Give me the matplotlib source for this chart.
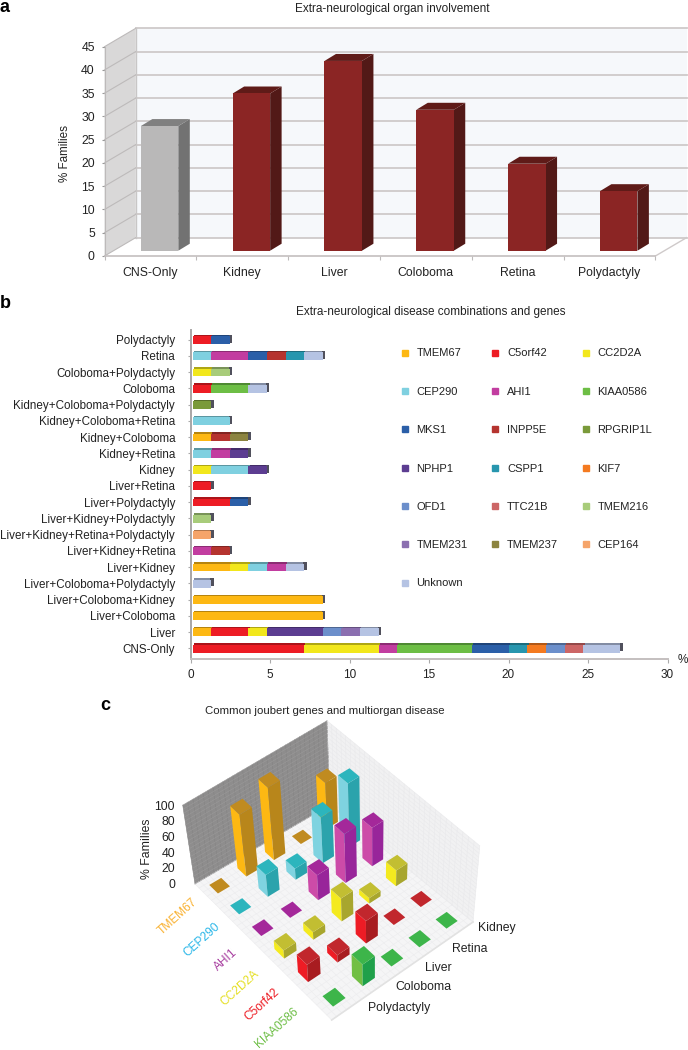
import numpy as np
import matplotlib
matplotlib.use("Agg")
import matplotlib.pyplot as plt
from matplotlib.lines import Line2D
from matplotlib.colors import to_rgb

plt.rcParams['font.family'] = ['Liberation Sans', 'DejaVu Sans']

W, H = 688, 1050

# panel a
organs = ["CNS-Only", "Kidney", "Liver", "Coloboma", "Retina", "Polydactyly"]
organ_pct = [26.8, 33.8, 40.8, 30.3, 18.7, 12.8]

# panel b
combos = ["CNS-Only", "Liver", "Liver+Coloboma", "Liver+Coloboma+Kidney",
          "Liver+Coloboma+Polydactyly", "Liver+Kidney", "Liver+Kidney+Retina",
          "Liver+Kidney+Retina+Polydactyly", "Liver+Kidney+Polydactyly",
          "Liver+Polydactyly", "Liver+Retina", "Kidney", "Kidney+Retina",
          "Kidney+Coloboma", "Kidney+Coloboma+Retina", "Kidney+Coloboma+Polydactyly",
          "Coloboma", "Coloboma+Polydactyly", "Retina", "Polydactyly"]
TMEM67 =   [0, 1.17, 8.19, 8.19, 0, 2.34, 0, 0, 0, 0, 0, 0, 0, 1.17, 0, 0, 0, 0, 0, 0]
C5orf42 =  [7.02, 2.34, 0, 0, 0, 0, 0, 0, 0, 2.34, 1.17, 0, 0, 0, 0, 0, 1.17, 0, 0, 1.17]
CC2D2A =   [4.68, 1.17, 0, 0, 0, 1.17, 0, 0, 0, 0, 0, 1.17, 0, 0, 0, 0, 0, 1.17, 0, 0]
CEP290 =   [0, 0, 0, 0, 0, 1.17, 0, 0, 0, 0, 0, 2.34, 1.17, 0, 2.34, 0, 0, 0, 1.17, 0]
AHI1 =     [1.17, 0, 0, 0, 0, 1.17, 1.17, 0, 0, 0, 0, 0, 1.17, 0, 0, 0, 0, 0, 2.34, 0]
KIAA0586 = [4.68, 0, 0, 0, 0, 0, 0, 0, 0, 0, 0, 0, 0, 0, 0, 0, 2.34, 0, 0, 0]
MKS1 =     [2.34, 0, 0, 0, 0, 0, 0, 0, 0, 1.17, 0, 0, 0, 0, 0, 0, 0, 0, 1.17, 1.17]
INPP5E =   [0, 0, 0, 0, 0, 0, 1.17, 0, 0, 0, 0, 0, 0, 1.17, 0, 0, 0, 0, 1.17, 0]
RPGRIP1L = [0, 0, 0, 0, 0, 0, 0, 0, 0, 0, 0, 0, 0, 0, 0, 1.17, 0, 0, 0, 0]
NPHP1 =    [0, 3.51, 0, 0, 0, 0, 0, 0, 0, 0, 0, 1.17, 1.17, 0, 0, 0, 0, 0, 0, 0]
CSPP1 =    [1.17, 0, 0, 0, 0, 0, 0, 0, 0, 0, 0, 0, 0, 0, 0, 0, 0, 0, 1.17, 0]
KIF7 =     [1.17, 0, 0, 0, 0, 0, 0, 0, 0, 0, 0, 0, 0, 0, 0, 0, 0, 0, 0, 0]
OFD1 =     [1.17, 1.17, 0, 0, 0, 0, 0, 0, 0, 0, 0, 0, 0, 0, 0, 0, 0, 0, 0, 0]
TTC21B =   [1.17, 0, 0, 0, 0, 0, 0, 0, 0, 0, 0, 0, 0, 0, 0, 0, 0, 0, 0, 0]
TMEM216 =  [0, 0, 0, 0, 0, 0, 0, 0, 1.17, 0, 0, 0, 0, 0, 0, 0, 0, 1.17, 0, 0]
TMEM231 =  [0, 1.17, 0, 0, 0, 0, 0, 0, 0, 0, 0, 0, 0, 0, 0, 0, 0, 0, 0, 0]
TMEM237 =  [0, 0, 0, 0, 0, 0, 0, 0, 0, 0, 0, 0, 0, 1.17, 0, 0, 0, 0, 0, 0]
CEP164 =   [0, 0, 0, 0, 0, 0, 0, 1.17, 0, 0, 0, 0, 0, 0, 0, 0, 0, 0, 0, 0]
Unknown =  [2.34, 1.17, 0, 0, 1.17, 1.17, 0, 0, 0, 0, 0, 0, 0, 0, 0, 0, 1.17, 0, 1.17, 0]

genes = ["TMEM67", "C5orf42", "CC2D2A", "CEP290", "AHI1", "KIAA0586", "MKS1", "INPP5E",
         "RPGRIP1L", "NPHP1", "CSPP1", "KIF7", "OFD1", "TTC21B", "TMEM216", "TMEM231",
         "TMEM237", "CEP164", "Unknown"]
gene_values = [TMEM67, C5orf42, CC2D2A, CEP290, AHI1, KIAA0586, MKS1, INPP5E, RPGRIP1L,
               NPHP1, CSPP1, KIF7, OFD1, TTC21B, TMEM216, TMEM231, TMEM237, CEP164, Unknown]
gene_colors = ["#FDB813", "#ED1C24", "#F2E71C", "#7FD0E0", "#C23DA0", "#6DBE45", "#2B5FA8",
               "#B5342F", "#7A9A3A", "#5C3D91", "#2796AE", "#F47A20", "#6C8FCB", "#CC6666",
               "#A8CC7A", "#8B6FB0", "#8C8440", "#F5A46A", "#B5C3E3"]

# panel c, rows are genes, columns are organs
c_genes = ["TMEM67", "CEP290", "AHI1", "CC2D2A", "C5orf42", "KIAA0586"]
c_organs = ["Polydactyly", "Coloboma", "Liver", "Retina", "Kidney"]
c_values = [[0, 78, 90, 0, 55],
            [0, 28, 14, 57, 78],
            [0, 0, 32, 62, 48],
            [11, 10, 30, 7, 20],
            [24, 10, 30, 0, 0],
            [0, 30, 0, 0, 0]]
c_ticks = [0, 20, 40, 60, 80, 100]


def px_axes(left, top, right, bottom):
    return fig.add_axes([left / W, 1 - bottom / H, (right - left) / W, (bottom - top) / H])


def darker(color, k):
    return tuple(c * k for c in to_rgb(color))


fig = plt.figure(figsize=(W / 100, H / 100), dpi=100)

# ---- a ----
ax = px_axes(104.5, 46.7, 655.4, 256)
ax.set_xlim(0, 6)
ax.set_ylim(0, 45)
ax.patch.set_visible(False)
depth_x, depth_y = 0.34, 3.95
n = len(organs)
ax.fill([0, 0, depth_x, depth_x], [0, 45, 45 + depth_y, depth_y], color="#D9D8D8", lw=0, clip_on=False, zorder=1)
ax.fill([depth_x, depth_x, n + depth_x, n + depth_x], [depth_y, 45 + depth_y, 45 + depth_y, depth_y],
        color="#F6F8FB", lw=0, clip_on=False, zorder=1)
for v in range(0, 50, 5):
    ax.plot([depth_x, n + depth_x], [v + depth_y] * 2, color="#CFCACA", lw=1.3, clip_on=False, zorder=2)
    ax.plot([0, depth_x], [v, v + depth_y], color="#BDBABA", lw=0.8, clip_on=False, zorder=2)
ax.plot([depth_x, depth_x], [depth_y, 45 + depth_y], color="#C8C6C6", lw=1, clip_on=False, zorder=2)
ax.plot([n, n + depth_x], [0, depth_y], color="#CFCACA", lw=1, clip_on=False, zorder=2)
bar_w, bar_floor, side_x, side_y = 0.408, 1.14, 0.125, 1.5
centers = np.arange(n) + 0.6
face_cols = ["#B9B8B8"] + ["#8B2524"] * 5
side_cols = ["#727272"] + ["#521917"] * 5
top_cols = ["#808080"] + ["#5F1B18"] * 5
ax.bar(centers, organ_pct, width=bar_w, bottom=bar_floor, color=face_cols, zorder=4)
for cx_, v, sc, tc in zip(centers, organ_pct, side_cols, top_cols):
    x1 = cx_ + bar_w / 2
    x0 = cx_ - bar_w / 2
    top = bar_floor + v
    ax.fill([x1, x1 + side_x, x1 + side_x, x1], [bar_floor, bar_floor + side_y, top + side_y, top],
            color=sc, lw=0, clip_on=False, zorder=3)
    ax.fill([x0, x1, x1 + side_x, x0 + side_x], [top, top, top + side_y, top + side_y],
            color=tc, lw=0, clip_on=False, zorder=3)
ax.set_xticks(np.arange(n + 1))
ax.set_xticklabels([])
ax.set_xticks(np.arange(n) + 0.5, labels=organs, minor=True)
ax.set_yticks(range(0, 50, 5))
ax.tick_params(axis="x", which="major", length=3, color="#BDBABA")
ax.tick_params(axis="x", which="minor", length=0, pad=8, labelsize=8.8, labelcolor="#222222")
ax.tick_params(axis="y", length=2, color="#999999", labelsize=8.8, labelcolor="#222222", pad=5)
for s in ["top", "right"]:
    ax.spines[s].set_visible(False)
ax.spines["left"].set_color("#BDBABA")
ax.spines["bottom"].set_color("#C4BFBF")
ax.spines["bottom"].set_linewidth(1.2)

# ---- b ----
bx = px_axes(190.5, 330, 667.5, 659)
bx.set_xlim(0, 30)
bx.set_ylim(-0.66, 19.6)
bx.patch.set_visible(False)
rows = np.arange(len(combos))
start = 0.13
left = np.full(len(combos), start)
for vals, col in zip(gene_values, gene_colors):
    vals = np.array(vals)
    back_col = darker(col, 0.72)
    bx.barh(rows + 0.06, vals, left=left + 0.08, height=0.5, color=back_col, zorder=2)
    left = left + vals
bx.barh(rows + 0.06, 0.2, left=left - 0.05, height=0.5, color="#50505C", zorder=3)
left = np.full(len(combos), start)
for vals, col in zip(gene_values, gene_colors):
    vals = np.array(vals)
    bx.barh(rows - 0.02, vals, left=left, height=0.48, color=col, zorder=4)
    left = left + vals
bx.set_yticks(rows, labels=combos)
bx.set_xticks(range(0, 35, 5))
bx.tick_params(axis="y", length=2, color="#AAAAAA", labelsize=8.35, labelcolor="#222222", pad=9)
bx.tick_params(axis="x", length=3, color="#AAAAAA", labelsize=8.5, labelcolor="#222222", pad=4)
for s in ["top", "right"]:
    bx.spines[s].set_visible(False)
bx.spines["left"].set_color("#A9A6A6")
bx.spines["left"].set_linewidth(1.4)
bx.spines["bottom"].set_color("#C4BFBF")
bx.spines["bottom"].set_linewidth(1.4)
handles = [Line2D([], [], ls="", marker="s", ms=4.5, color=c, label=g)
           for g, c in zip(genes, gene_colors)]
order = [0, 3, 6, 9, 12, 15, 18, 1, 4, 7, 10, 13, 16, 2, 5, 8, 11, 14, 17]
fig.legend([handles[i] for i in order], [genes[i] for i in order], ncol=3, frameon=False,
           loc="upper left", bbox_to_anchor=(398 / W, 1 - 348.5 / H), borderpad=0, borderaxespad=0,
           fontsize=8, labelcolor="#222222", labelspacing=2.55, columnspacing=1.9,
           handletextpad=0.45, handlelength=1.2)

# ---- c ----
cx = fig.add_axes([0, 0, 1, 1])
cx.set_xlim(0, W)
cx.set_ylim(H, 0)
cx.axis("off")
cx.patch.set_visible(False)

# floor corners on the page: u runs along genes, v along organs
floor_src = np.array([[0, 0], [1, 0], [1, 1], [0, 1]], float)
floor_dst = np.array([[195, 884], [331.7, 1020], [473, 922], [330, 805]], float)
A = []
b = []
for (s, t), (p, q) in zip(floor_src, floor_dst):
    A.append([s, t, 1, 0, 0, 0, -s * p, -t * p])
    A.append([0, 0, 0, s, t, 1, -s * q, -t * q])
    b += [p, q]
homog = np.append(np.linalg.solve(np.array(A), np.array(b)), 1).reshape(3, 3)
vanish = np.array([374, 2035.0])
z_scale = 0.0685


def project(u, v, z=0.0):
    pt = homog @ np.array([u, v, 1.0])
    base = pt[:2] / pt[2]
    return base + (base - vanish) * z_scale * z / 100


def poly(corners, color, zorder):
    xy = np.array(corners)
    cx.fill(xy[:, 0], xy[:, 1], color=color, lw=0, zorder=zorder)


poly([project(0, 0), project(0, 1), project(0, 1, 100), project(0, 0, 100)], "#8E8D8D", 1)
poly([project(0, 1), project(1, 1), project(1, 1, 100), project(0, 1, 100)], "#F1F1F2", 1)
poly([project(0, 0), project(1, 0), project(1, 1), project(0, 1)], "#F5F5F6", 1)
for t in np.linspace(0, 1, 31):
    for p0, p1, col in [(project(t, 0), project(t, 1), "#ECECEE"),
                        (project(0, t), project(1, t), "#ECECEE"),
                        (project(t, 1), project(t, 1, 100), "#E9E9EB"),
                        (project(0, t), project(0, t, 100), "#848383")]:
        cx.plot([p0[0], p1[0]], [p0[1], p1[1]], color=col, lw=0.4, zorder=1.5)
for z in np.linspace(0, 100, 21):
    for p0, p1, col in [(project(0, 0, z), project(0, 1, z), "#9A9999"),
                        (project(0, 1, z), project(1, 1, z), "#E9E9EB")]:
        cx.plot([p0[0], p1[0]], [p0[1], p1[1]], color=col, lw=0.4, zorder=1.5)
cx.plot(*zip(project(1, 0), project(1, 1)), color="#E2E2E2", lw=1.2, zorder=1.6)

left_cols = ["#FDB813", "#7FD3E0", "#CC4BA8", "#F4EA1F", "#EE1C25", "#72BF44"]
right_cols = ["#B8861B", "#2BA3AC", "#98259A", "#A8A62E", "#A81C20", "#1FA04A"]
top_cols = ["#C08B20", "#2CB5BD", "#A4289A", "#C2BE32", "#C1272D", "#3DB54A"]
bars = []
for i in range(len(c_genes)):
    for j in range(len(c_organs)):
        uc = (i + 0.5) / len(c_genes)
        vc = (j + 0.5) / len(c_organs)
        bars.append((project(uc, vc)[1], i, uc, vc, c_values[i][j]))
bars.sort()
du, dv = 0.21 / len(c_genes), 0.21 / len(c_organs)
for order_z, (_, i, uc, vc, val) in enumerate(bars):
    zo = 3 + order_z * 0.01
    left_c = (uc - du, vc - dv)
    front_c = (uc + du, vc - dv)
    right_c = (uc + du, vc + dv)
    back_c = (uc - du, vc + dv)
    if val > 0:
        poly([project(*left_c), project(*front_c), project(*front_c, val), project(*left_c, val)],
             left_cols[i], zo)
        poly([project(*front_c), project(*right_c), project(*right_c, val), project(*front_c, val)],
             right_cols[i], zo)
    poly([project(*c, val) for c in (left_c, front_c, right_c, back_c)], top_cols[i], zo)

for v, y in zip(c_ticks, np.linspace(885, 806.7, len(c_ticks))):
    cx.text(175, y, str(v), ha="right", va="center", fontsize=8.8, color="#222222")
cx.text(147, 849, "% Families", rotation=90, ha="center", va="center", fontsize=8.8, color="#222222")

label_cols = ["#F9B233", "#29B6E8", "#A83FA0", "#E5DF22", "#ED1C24", "#6DBE45"]
label_pos = [(178, 917), (202, 940), (226, 960), (240, 988), (262, 1005), (277, 1028)]
for name, col, (x, y) in zip(c_genes, label_cols, label_pos):
    cx.text(x, y, name, rotation=42, rotation_mode="anchor", ha="center", va="center",
            fontsize=8.6, color=col)
organ_pos = [(368, 1008), (395, 987), (425, 968), (452, 949), (478, 928)]
for name, (x, y) in zip(c_organs, organ_pos):
    cx.text(x, y, name, ha="left", va="center", fontsize=8.8, color="#222222")

# titles and panel letters
cx.text(392.7, 9, "Extra-neurological organ involvement", ha="center", va="center", fontsize=8.5, color="#222222")
cx.text(431, 312, "Extra-neurological disease combinations and genes", ha="center", va="center",
        fontsize=8.5, color="#222222")
cx.text(325, 711, "Common joubert genes and multiorgan disease", ha="center", va="center",
        fontsize=8.2, color="#222222")
cx.text(65, 153, "% Families", rotation=90, ha="center", va="center", fontsize=8.4, color="#222222")
cx.text(683, 660, "%", ha="center", va="center", fontsize=8.5, color="#222222")
cx.text(0, 7, "a", ha="left", va="center", fontsize=13, fontweight="bold")
cx.text(0, 303, "b", ha="left", va="center", fontsize=13, fontweight="bold")
cx.text(100, 705, "c", ha="left", va="center", fontsize=13, fontweight="bold")

fig.savefig("out.png", dpi=100)
plt.close(fig)
